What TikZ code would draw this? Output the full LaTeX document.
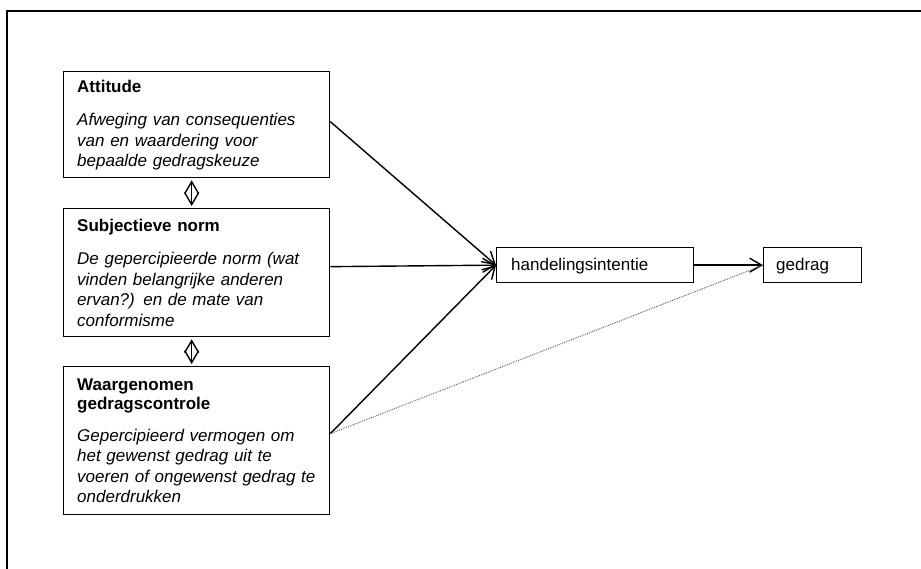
\documentclass[tikz,border=0pt]{standalone}
\usepackage{fontspec}
\setmainfont{Liberation Sans}
\usetikzlibrary{arrows.meta}
\begin{document}
\begin{tikzpicture}[x=1pt,y=-1pt,
  box/.style={draw,line width=1.3pt,rectangle,inner sep=0pt,anchor=north west},
  txt/.style={anchor=base west,inner sep=0pt,text width=255pt,align=left,font=\fontsize{17}{20}\selectfont},
  hdr/.style={txt,font=\fontsize{17}{19}\selectfont\bfseries},
  body/.style={txt,font=\fontsize{17}{20.5}\selectfont\itshape},
  lbl/.style={anchor=base west,inner sep=0pt,font=\fontsize{17}{20}\selectfont},
  tip/.style={line width=1.4pt,-{Straight Barb[length=12pt,width=14pt]}},
  link/.style={line width=1.4pt,shorten <=2pt,shorten >=2pt,{Straight Barb[length=12pt,width=14pt]}-{Straight Barb[length=12pt,width=14pt]}}
]
\useasboundingbox (0,0) rectangle (921,569);
\draw[line width=2pt] (7,569) -- (7,11) -- (921,11);

% boxes
\node[box,minimum width=266pt,minimum height=106pt] (att) at (63,71) {};
\node[box,minimum width=266pt,minimum height=128pt] (subj) at (63,208) {};
\node[box,minimum width=266pt,minimum height=148pt] (waar) at (63,366) {};
\node[box,minimum width=197pt,minimum height=35pt] (hand) at (496,247) {};
\node[box,minimum width=98pt,minimum height=35pt] (ged) at (763,247) {};

% texts
\node[hdr] (att-h) at (77,93) {Attitude};
\node[body] (att-b) at (77,126) {Afweging van consequenties\\van en waardering voor\\bepaalde gedragskeuze};
\node[hdr] (subj-h) at (77,232) {Subjectieve norm};
\node[body] (subj-b) at (77,265) {De gepercipieerde norm (wat\\vinden belangrijke anderen\\ervan?) en de mate van\\conformisme};
\node[hdr] (waar-h) at (77,390) {Waargenomen\\gedragscontrole};
\node[body] (waar-b) at (77,441) {Gepercipieerd vermogen om\\het gewenst gedrag uit te\\voeren of ongewenst gedrag te\\onderdrukken};
\node[lbl] (hand-t) at (511,271) {handelingsintentie};
\node[lbl] (ged-t) at (776,271) {gedrag};

% connectors
\draw[tip] ([yshift=3pt]att.east) -- (hand.west);
\draw[tip] ([yshift=6pt]subj.east) -- (hand.west);
\draw[tip] ([yshift=7pt]waar.east) -- (hand.west);
\draw[tip] (hand.east) -- (ged.west);
\draw[densely dotted,line width=0.9pt,black!65] ([yshift=7pt]waar.east) -- (ged.west);
\draw[link] ([xshift=-5pt]att.south) -- ([xshift=-5pt]subj.north);
\draw[link] ([xshift=-5pt]subj.south) -- ([xshift=-5pt]waar.north);
\end{tikzpicture}
\end{document}
